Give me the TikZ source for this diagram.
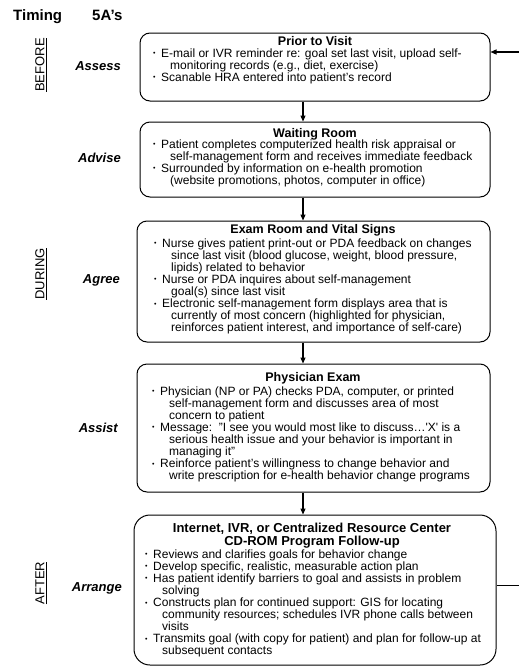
\documentclass[tikz,border=0pt]{standalone}
\usepackage{fontspec}
\setmainfont{Liberation Sans}
\usetikzlibrary{arrows.meta}
\newcommand\bul{\makebox[8pt][l]{\raisebox{1.4pt}{\fontsize{7}{7}\selectfont •}}}
\newcommand\cont{\hspace*{17pt}}
\newcommand\boxtext[1]{\parbox[t]{345pt}{\fontsize{12}{12.1}\selectfont\raggedright #1}}
\tikzset{
  box/.style={draw, line width=1pt, rounded corners=10pt, inner sep=0},
  ttl/.style={anchor=base, inner sep=0, font=\fontsize{12.5}{12.5}\selectfont\bfseries},
  bigttl/.style={anchor=base, inner sep=0, font=\fontsize{13}{13}\selectfont\bfseries},
  body/.style={anchor=base west, inner sep=0},
  aword/.style={anchor=base east, inner sep=0, font=\fontsize{13}{13}\selectfont\bfseries\itshape},
  phase/.style={rotate=90, inner sep=0, font=\fontsize{13}{13}\selectfont},
  hdr/.style={anchor=base west, inner sep=0, font=\fontsize{15}{15}\selectfont\bfseries},
  arr/.style={line width=1.1pt, -{Triangle[length=6pt,width=5pt]}},
  fb/.style={line width=1pt}
}
\begin{document}
\begin{tikzpicture}[x=1pt,y=-1pt]
\useasboundingbox (0,0) rectangle (519,667);
% header
\node[hdr] (timing) at (13,20) {Timing};
\node[hdr] (fiveA) at (92,20) {5A’s};
% phases
\node[phase] (before) at (41,65) {\underline{BEFORE}};
\node[phase] (during) at (41,274) {\underline{DURING}};
\node[phase] (after) at (41,583) {\underline{AFTER}};
% A words
\node[aword] (assess) at (121,70) {Assess};
\node[aword] (advise) at (121,162) {Advise};
\node[aword] (agree) at (120,283) {Agree};
\node[aword] (assist) at (118,432) {Assist};
\node[aword] (arrange) at (122,591) {Arrange};
% boxes
\node[box, minimum width=350pt, minimum height=68pt] (b1) at (315,67) {};
\node[box, minimum width=350pt, minimum height=75pt] (b2) at (315,159.5) {};
\node[box, minimum width=353pt, minimum height=121pt] (b3) at (313.5,281.5) {};
\node[box, minimum width=353pt, minimum height=128pt] (b4) at (313.5,428) {};
\node[box, rounded corners=16pt, minimum width=362pt, minimum height=150pt] (b5) at (315,590) {};
% titles
\node[ttl] (t1) at (315,45) {Prior to Visit};
\node[ttl] (t2) at (315,137) {Waiting Room};
\node[ttl] (t3) at (313,233) {Exam Room and Vital Signs};
\node[ttl] (t4) at (313,381) {Physician Exam};
\node[bigttl] (t5a) at (312,532) {Internet, IVR, or Centralized Resource Center};
\node[bigttl] (t5b) at (312,545) {CD-ROM Program Follow-up};
% body texts
\node[body] (x1) at (153,57) {\boxtext{%
\bul E-mail or IVR reminder re: goal set last visit, upload self-\\
\cont monitoring records (e.g., diet, exercise)\\
\bul Scanable HRA entered into patient’s record}};
\node[body] (x2) at (153,148) {\boxtext{%
\bul Patient completes computerized health risk appraisal or\\
\cont self-management form and receives immediate feedback\\
\bul Surrounded by information on e-health promotion\\
\cont (website promotions, photos, computer in office)}};
\node[body] (x3) at (154,247) {\boxtext{%
\bul Nurse gives patient print-out or PDA feedback on changes\\
\cont since last visit (blood glucose, weight, blood pressure,\\
\cont lipids) related to behavior\\
\bul Nurse or PDA inquires about self-management\\
\cont goal(s) since last visit\\
\bul Electronic self-management form displays area that is\\
\cont currently of most concern (highlighted for physician,\\
\cont reinforces patient interest, and importance of self-care)}};
\node[body] (x4) at (152,395) {\boxtext{%
\bul Physician (NP or PA) checks PDA, computer, or printed\\
\cont self-management form and discusses area of most\\
\cont concern to patient\\
\bul Message:\ \ "I see you would most like to discuss…\textquotesingle X\textquotesingle\ is a\\
\cont serious health issue and your behavior is important in\\
\cont managing it"\\
\bul Reinforce patient’s willingness to change behavior and\\
\cont write prescription for e-health behavior change programs}};
\node[body] (x5) at (145,558) {\boxtext{%
\bul Reviews and clarifies goals for behavior change\\
\bul Develop specific, realistic, measurable action plan\\
\bul Has patient identify barriers to goal and assists in problem\\
\cont solving\\
\bul Constructs plan for continued support: GIS for locating\\
\cont community resources; schedules IVR phone calls between\\
\cont visits\\
\bul Transmits goal (with copy for patient) and plan for follow-up at\\
\cont subsequent contacts}};
% connectors
\coordinate (ax) at (303,0);
\draw[arr] (b1.south -| ax) -- (b2.north -| ax);
\draw[arr] (b2.south -| ax) -- (b3.north -| ax);
\draw[arr] (b3.south -| ax) -- (b4.north -| ax);
\draw[arr] (b4.south -| ax) -- (b5.north -| ax);
\coordinate (fbtop) at (519,52);
\coordinate (fbbot) at (519,585);
\draw[fb] (fbbot -| b5.east) -- (fbbot);
\draw[arr] (fbtop) -- (fbtop -| b1.east);
\end{tikzpicture}
\end{document}
